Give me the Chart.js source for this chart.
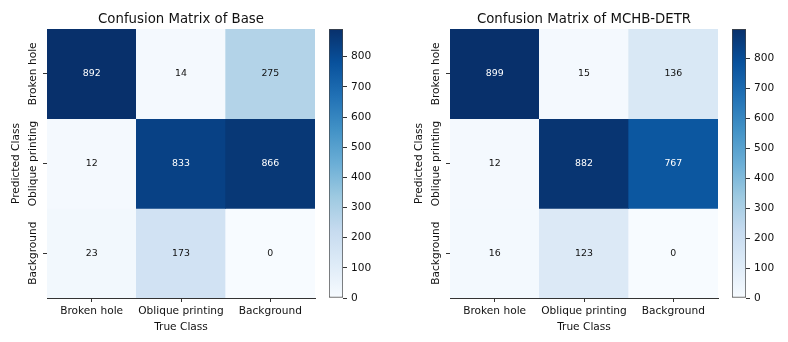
<!DOCTYPE html>
<html lang="en">
  <head>
    <meta charset="UTF-8" />
    <title>Confusion Matrices</title>
    <script src="https://cdn.jsdelivr.net/npm/chart.js"></script>
    <style>
      body {
        margin: 0;
        background: #fff;
        width: 788px;
        height: 342px;
        overflow: hidden;
        position: relative;
      }
      .box {
        position: absolute;
        top: 0;
        height: 342px;
      }
    </style>
  </head>
  <body>
    <div class="box" style="left: 0; width: 325px"><canvas id="cmBase"></canvas></div>
    <div class="box" style="left: 329px; width: 60px"><canvas id="cbBase"></canvas></div>
    <div class="box" style="left: 403px; width: 325px"><canvas id="cmMchb"></canvas></div>
    <div class="box" style="left: 732px; width: 56px"><canvas id="cbMchb"></canvas></div>

    <script>
      // rows = predicted class, columns = true class
      const classes = ["Broken hole", "Oblique printing", "Background"];
      const baseMatrix = [
        [892, 14, 275],
        [12, 833, 866],
        [23, 173, 0],
      ];
      const mchbMatrix = [
        [899, 15, 136],
        [12, 882, 767],
        [16, 123, 0],
      ];
      const colorbarTicks = [0, 100, 200, 300, 400, 500, 600, 700, 800];

      // matplotlib "Blues"
      const blues = [
        "#f7fbff", "#deebf7", "#c6dbef", "#9ecae1", "#6baed6",
        "#4292c6", "#2171b5", "#08519c", "#08306b",
      ];

      const FONT = "'DejaVu Sans', sans-serif";
      const TEXT = "#111";

      function hexToRgb(h) {
        return [1, 3, 5].map((i) => parseInt(h.slice(i, i + 2), 16));
      }

      function bluesColor(t) {
        t = Math.min(1, Math.max(0, t));
        const pos = t * (blues.length - 1);
        const i = Math.min(Math.floor(pos), blues.length - 2);
        const f = pos - i;
        const a = hexToRgb(blues[i]);
        const b = hexToRgb(blues[i + 1]);
        const c = a.map((v, k) => Math.round(v + (b[k] - v) * f));
        return `rgb(${c[0]}, ${c[1]}, ${c[2]})`;
      }

      function drawMatrix(canvasId, title, matrix) {
        const vmax = Math.max(...matrix.flat());

        // one stacked dataset per row, each cell one unit tall
        const datasets = matrix.map((row, i) => ({
          label: classes[i],
          data: row.map(() => 1),
          backgroundColor: row.map((v) => bluesColor(v / vmax)),
          borderWidth: 0,
          barPercentage: 1,
          categoryPercentage: 1,
        }));

        // cell numbers, title and rotated row labels
        const matrixText = {
          id: "matrixText",
          afterDatasetsDraw(chart) {
            const ctx = chart.ctx;
            const area = chart.chartArea;
            ctx.save();
            ctx.textAlign = "center";
            ctx.textBaseline = "middle";
            ctx.font = `9.4px ${FONT}`;
            chart.data.datasets.forEach((ds, i) => {
              chart.getDatasetMeta(i).data.forEach((bar, j) => {
                const v = matrix[i][j];
                const p = bar.getCenterPoint();
                ctx.fillStyle = v > vmax / 2 ? "#fff" : TEXT;
                ctx.fillText(String(v), p.x, p.y);
              });
            });

            ctx.textBaseline = "alphabetic";
            ctx.fillStyle = TEXT;
            ctx.font = `13.3px ${FONT}`;
            ctx.fillText(title, (area.left + area.right) / 2, 23);

            const y = chart.scales.y;
            ctx.font = `10.6px ${FONT}`;
            classes.forEach((name, i) => {
              ctx.save();
              ctx.translate(36, y.getPixelForValue(i + 0.5));
              ctx.rotate(-Math.PI / 2);
              ctx.fillText(name, 0, 0);
              ctx.restore();
            });
            ctx.restore();
          },
        };

        new Chart(document.getElementById(canvasId), {
          type: "bar",
          data: { labels: classes, datasets },
          options: {
            responsive: true,
            maintainAspectRatio: false,
            animation: false,
            layout: { padding: { top: 29, right: 10, left: 0, bottom: 0 } },
            plugins: {
              legend: { display: false },
              tooltip: { enabled: false },
            },
            scales: {
              x: {
                stacked: true,
                afterFit: (s) => {
                  s.height = 44;
                },
                grid: {
                  drawOnChartArea: false,
                  drawTicks: true,
                  tickLength: 4,
                  offset: false,
                  color: "#333",
                },
                border: { display: true, color: "#333", width: 1 },
                ticks: {
                  padding: 3,
                  color: TEXT,
                  maxRotation: 0,
                  font: { family: FONT, size: 10.6 },
                },
                title: {
                  display: true,
                  text: "True Class",
                  color: TEXT,
                  font: { family: FONT, size: 10.6 },
                  padding: { top: 0, bottom: 8 },
                },
              },
              y: {
                stacked: true,
                min: 0,
                max: 3,
                reverse: true,
                afterBuildTicks: (s) => {
                  s.ticks = classes.map((c, i) => ({ value: i + 0.5 }));
                },
                afterFit: (s) => {
                  s.width = 47;
                },
                grid: {
                  drawOnChartArea: false,
                  drawTicks: true,
                  tickLength: 4,
                  color: "#333",
                },
                border: { display: true, color: "#333", width: 1 },
                ticks: { color: "rgba(0,0,0,0)" },
                title: {
                  display: true,
                  text: "Predicted Class",
                  color: TEXT,
                  font: { family: FONT, size: 10.6 },
                  padding: { top: 10, bottom: 0 },
                },
              },
            },
          },
          plugins: [matrixText],
        });
      }

      function drawColorbar(canvasId, matrix) {
        const vmax = Math.max(...matrix.flat());
        new Chart(document.getElementById(canvasId), {
          type: "bar",
          data: {
            labels: [""],
            datasets: [
              {
                data: [[0, vmax]],
                backgroundColor: (c) => {
                  const area = c.chart.chartArea;
                  if (!area) return blues[0];
                  const g = c.chart.ctx.createLinearGradient(0, area.bottom, 0, area.top);
                  blues.forEach((col, i) => g.addColorStop(i / (blues.length - 1), col));
                  return g;
                },
                borderColor: "#444",
                borderWidth: 1,
                borderSkipped: false,
                barPercentage: 1,
                categoryPercentage: 1,
              },
            ],
          },
          options: {
            responsive: true,
            maintainAspectRatio: false,
            animation: false,
            layout: { padding: { top: 29, bottom: 44, left: 0, right: 0 } },
            plugins: {
              legend: { display: false },
              tooltip: { enabled: false },
            },
            scales: {
              x: { display: false },
              y: {
                position: "right",
                min: 0,
                max: vmax,
                afterBuildTicks: (s) => {
                  s.ticks = colorbarTicks.map((v) => ({ value: v }));
                },
                afterFit: (s) => {
                  s.width = s.chart.width - 14;
                },
                grid: {
                  drawOnChartArea: false,
                  drawTicks: true,
                  tickLength: 4,
                  color: "#333",
                },
                border: { display: false },
                ticks: {
                  padding: 4,
                  color: TEXT,
                  font: { family: FONT, size: 10.6 },
                },
              },
            },
          },
        });
      }

      drawMatrix("cmBase", "Confusion Matrix of Base", baseMatrix);
      drawColorbar("cbBase", baseMatrix);
      drawMatrix("cmMchb", "Confusion Matrix of MCHB-DETR", mchbMatrix);
      drawColorbar("cbMchb", mchbMatrix);
    </script>
  </body>
</html>
